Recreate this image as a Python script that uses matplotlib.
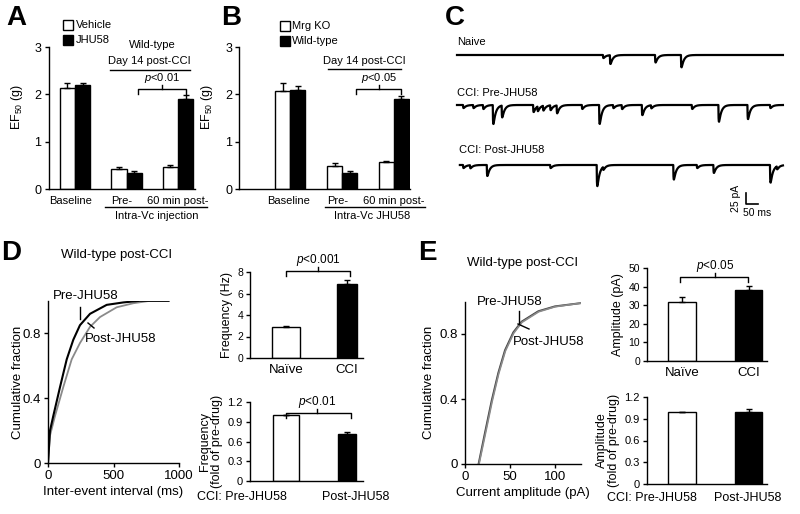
import numpy as np
import matplotlib
import matplotlib.pyplot as plt
from matplotlib.lines import Line2D

matplotlib.use('Agg')

plt.rcParams['font.family'] = ['Liberation Sans', 'DejaVu Sans']
plt.rcParams['mathtext.fontset'] = 'custom'
plt.rcParams['mathtext.rm'] = 'Liberation Sans'
plt.rcParams['mathtext.it'] = 'Liberation Sans:italic'
plt.rcParams['axes.linewidth'] = 1.0

# ---- data ----
group_labels = ['Baseline', 'Pre-', '60 min post-']
a_vehicle = [2.13, 0.42, 0.47]
a_vehicle_err = [0.12, 0.035, 0.035]
a_jhu58 = [2.20, 0.33, 1.90]
a_jhu58_err = [0.05, 0.04, 0.08]

b_mrgko = [2.08, 0.495, 0.57]
b_mrgko_err = [0.15, 0.05, 0.03]
b_wildtype = [2.09, 0.33, 1.90]
b_wildtype_err = [0.08, 0.04, 0.07]

trace_names = ['Naive', 'CCI: Pre-JHU58', 'CCI: Post-JHU58']
trace_start_ms = [0, 0, 12]
trace_end_ms = 1358
naive_event_ms = [608, 637, 825, 933]
naive_event_pa = [7, 20, 17, 28]
pre_event_ms = [25, 67, 108, 149, 186, 317, 335, 358, 388, 415, 520, 592, 650, 686, 770, 808, 978, 1089, 1210, 1304]
pre_event_pa = [7, 7, 9, 43, 27, 16, 11, 11, 11, 18, 9, 43, 7, 9, 23, 7, 9, 38, 32, 7]
post_event_ms = [25, 54, 124, 388, 582, 608, 901, 999, 1068, 1304, 1332]
post_event_pa = [7, 7, 25, 7, 48, 7, 33, 7, 18, 40, 7]
scale_pa = 25
scale_ms = 50

d_pre_ms = [0, 15, 40, 92, 143, 193, 244, 321, 448, 575, 702, 920]
d_pre_frac = [0, 0.20, 0.29, 0.47, 0.64, 0.76, 0.85, 0.92, 0.975, 0.99, 1.0, 1.0]
d_post_ms = [0, 15, 53, 117, 181, 244, 321, 397, 524, 651, 779, 920]
d_post_frac = [0, 0.17, 0.29, 0.47, 0.64, 0.74, 0.84, 0.90, 0.96, 0.985, 1.0, 1.0]

freq_labels = ['Naïve', 'CCI']
freq_hz = [2.85, 6.91]
freq_hz_err = [0.15, 0.37]
freq_fold = [1.0, 0.71]
freq_fold_err = [0.0, 0.04]

e_pre_pa = [15, 22, 29.5, 36.8, 44.2, 53.4, 62.6, 81, 99.4, 128]
e_pre_frac = [0, 0.19, 0.39, 0.56, 0.70, 0.81, 0.876, 0.94, 0.97, 0.99]
e_post_pa = [15.5, 22.5, 30, 37.2, 44.6, 53.8, 63, 81.5, 99.8, 128]
e_post_frac = [0, 0.185, 0.385, 0.555, 0.695, 0.805, 0.872, 0.937, 0.968, 0.99]

amp_labels = ['Naïve', 'CCI']
amp_pa = [31.9, 38.3]
amp_pa_err = [2.4, 1.8]
amp_fold = [1.0, 1.0]
amp_fold_err = [0.0, 0.04]

fold_ticks = [0, 0.3, 0.6, 0.9, 1.2]
fold_ticklabels = ['0', '0.3', '0.6', '0.9', '1.2']

# ---- layout helpers (pixel coordinates, y from top) ----
W, H = 800, 514
fig = plt.figure(figsize=(W / 100, H / 100), dpi=100)


def rect(x0, y0, x1, y1):
    return [x0 / W, 1 - y1 / H, (x1 - x0) / W, (y1 - y0) / H]


def ftext(x, y, s, size=8, **kw):
    kw.setdefault('ha', 'center')
    kw.setdefault('va', 'center')
    fig.text(x / W, 1 - y / H, s, fontsize=size, **kw)


def fline(xs, ys, lw=1.0, color='k'):
    fig.add_artist(Line2D([x / W for x in xs], [1 - y / H for y in ys],
                          lw=lw, color=color, transform=fig.transFigure))


def bracket(x0, x1, y, xm, label, size=8):
    fline([x0, x0, x1, x1], [y + 5, y, y, y + 5])
    fline([xm, xm], [y, y - 4])
    ftext(xm, y - 11, '$\\it{p}$<' + label, size=size)


def style_axes(ax, size):
    ax.spines['top'].set_visible(False)
    ax.spines['right'].set_visible(False)
    ax.tick_params(direction='out', length=3, width=1, labelsize=size, pad=2)


def square(x, y, filled):
    fig.add_artist(Line2D([x / W], [1 - y / H], marker='s', ms=6.5, mec='k', mew=1,
                          mfc='k' if filled else 'w', transform=fig.transFigure))


# ---- A and B ----
def ef50_panel(r, xlim, white, white_err, black, black_err, w):
    ax = fig.add_axes(r)
    x = np.arange(len(white))
    ax.bar(x - w / 2, white, w, color='w', edgecolor='k', lw=1)
    ax.bar(x + w / 2, black, w, color='k', edgecolor='k', lw=1)
    ax.errorbar(x - w / 2, white, yerr=[np.zeros(3), white_err], fmt='none', ecolor='k', elinewidth=1, capsize=2)
    ax.errorbar(x + w / 2, black, yerr=[np.zeros(3), black_err], fmt='none', ecolor='k', elinewidth=1, capsize=2)
    ax.set_xlim(*xlim)
    ax.set_ylim(0, 3)
    ax.set_yticks([0, 1, 2, 3])
    ax.set_xticks([])
    style_axes(ax, 9)
    ax.set_ylabel('EF$_{50}$ (g)', fontsize=9)
    return ax


ax_a = ef50_panel(rect(48.5, 47, 195, 189), (-0.515, 2.33), a_vehicle, a_vehicle_err, a_jhu58, a_jhu58_err, 0.3)
ax_a.yaxis.set_label_coords(-0.16, 0.58)
ax_b = ef50_panel(rect(239, 47, 410, 189), (-0.99, 2.31), b_mrgko, b_mrgko_err, b_wildtype, b_wildtype_err, 0.29)
ax_b.yaxis.set_label_coords(-0.14, 0.58)

ftext(16, 18, 'A', size=20, weight='bold')
ftext(231, 18, 'B', size=20, weight='bold')
ftext(455, 18, 'C', size=20, weight='bold')
ftext(11, 253, 'D', size=20, weight='bold')
ftext(427, 253, 'E', size=20, weight='bold')

square(67.5, 25, False)
ftext(76, 25, 'Vehicle', ha='left')
square(67.5, 40, True)
ftext(76, 40, 'JHU58', ha='left')
square(284.5, 26, False)
ftext(292, 26, 'Mrg KO', ha='left')
square(284.5, 41, True)
ftext(292, 41, 'Wild-type', ha='left')

ftext(152, 45, 'Wild-type')
ftext(149, 61, 'Day 14 post-CCI')
fline([110, 190], [70, 70])
bracket(138, 186, 89, 162, '0.01')
ftext(364, 61, 'Day 14 post-CCI')
fline([328, 401], [69, 69])
bracket(356, 401, 89, 379, '0.05')

for xc, s in zip([70.5, 122, 178], group_labels):
    ftext(xc, 201, s)
fline([105, 207], [207, 207])
ftext(157, 216, 'Intra-Vc injection')
for xc, s in zip([288.5, 337.5, 394], group_labels):
    ftext(xc, 201, s)
fline([325, 425], [207, 207])
ftext(372, 216, 'Intra-Vc JHU58')

# ---- C: traces ----
ax_c = fig.add_axes(rect(450, 30, 790, 220))
ax_c.axis('off')
px_per_ms = 12 / 50
px_per_pa = 11 / 25
ax_c.set_xlim(-7 / px_per_ms, 333 / px_per_ms)
ax_c.set_ylim(0, 190 / px_per_pa)
baselines = [165 / px_per_pa, 115 / px_per_pa, 55 / px_per_pa]
kt = np.arange(0, 200, 1.0)
kernel = np.exp(-kt / 10) - np.exp(-kt / 1.0)
kernel = kernel / kernel.max()
events = [(naive_event_ms, naive_event_pa), (pre_event_ms, pre_event_pa), (post_event_ms, post_event_pa)]
for (ev_t, ev_a), t0, base in zip(events, trace_start_ms, baselines):
    t = np.arange(t0, trace_end_ms + 1, 1.0)
    y = np.full_like(t, base)
    for te, amp in zip(ev_t, ev_a):
        i = int(te - t0)
        n = min(len(kernel), len(t) - i)
        y[i:i + n] -= amp * kernel[:n]
    ax_c.plot(t, y, color='k', lw=1.6)
ftext(457, 42, trace_names[0], ha='left')
ftext(457, 93, trace_names[1], ha='left')
ftext(459, 150, trace_names[2], ha='left')
sb_x = 289 / px_per_ms
sb_y = 16 / px_per_pa
ax_c.plot([sb_x, sb_x, sb_x + scale_ms], [sb_y + scale_pa, sb_y, sb_y], color='k', lw=1.2)
ftext(736, 198, '25 pA', rotation=90, size=7.5)
ftext(743, 213, '50 ms', ha='left', size=7.5)


# ---- D and E cumulative ----
def cum_panel(r, pre_x, pre_y, post_x, post_y, xlim, xticks, xlabel, pre_on_top):
    ax = fig.add_axes(r)
    if pre_on_top:
        ax.plot(post_x, post_y, color='#8a8a8a', lw=1.3)
        ax.plot(pre_x, pre_y, color='k', lw=1.5)
    else:
        ax.plot(pre_x, pre_y, color='#444444', lw=1.4)
        ax.plot(post_x, post_y, color='#8a8a8a', lw=1.2)
    ax.set_xlim(*xlim)
    ax.set_ylim(0, 1.0)
    ax.set_xticks(xticks)
    ax.set_yticks([0, 0.4, 0.8])
    ax.set_yticklabels(['0', '0.4', '0.8'])
    style_axes(ax, 9.5)
    ax.set_xlabel(xlabel, fontsize=9.5, labelpad=3)
    ax.set_ylabel('Cumulative fraction', fontsize=9.5)
    return ax


ax_d = cum_panel(rect(48, 300.8, 179, 463.3), d_pre_ms, d_pre_frac, d_post_ms, d_post_frac,
                 (0, 1000), [0, 500, 1000], 'Inter-event interval (ms)', True)
ax_d.yaxis.set_label_coords(-0.18, 0.5)
ftext(117, 255, 'Wild-type post-CCI', size=9.5)
ftext(86, 296, 'Pre-JHU58', size=9.5)
fline([80, 80], [307, 319])
ftext(121, 339, 'Post-JHU58', size=9.5)
fline([88, 94], [323, 328])

ax_e = cum_panel(rect(465, 301.5, 580.8, 464), e_pre_pa, e_pre_frac, e_post_pa, e_post_frac,
                 (0, 128), [0, 50, 100], 'Current amplitude (pA)', False)
ax_e.yaxis.set_label_coords(-0.26, 0.5)
ftext(523, 263, 'Wild-type post-CCI', size=9.5)
ftext(510, 302, 'Pre-JHU58', size=9.5)
fline([519, 519], [311, 323])
ftext(549, 342, 'Post-JHU58', size=9.5)
fline([518, 529], [324, 329])


# ---- D and E bars ----
def small_bars(r, xlim, vals, errs, widths, ylim, yticks, yticklabels, xlabels, ylabel, size):
    ax = fig.add_axes(r)
    x = np.arange(len(vals))
    ax.bar(x, vals, widths, color=['w', 'k'], edgecolor='k', lw=1)
    ax.errorbar(x, vals, yerr=[np.zeros(len(vals)), errs], fmt='none', ecolor='k', elinewidth=1, capsize=2)
    ax.set_xlim(*xlim)
    ax.set_ylim(*ylim)
    ax.set_yticks(yticks)
    ax.set_yticklabels(yticklabels)
    style_axes(ax, size)
    if xlabels:
        ax.set_xticks(x)
        ax.set_xticklabels(xlabels, fontsize=9.5)
        ax.tick_params(axis='x', length=0, pad=4)
    else:
        ax.set_xticks([])
    ax.set_ylabel(ylabel, fontsize=9, labelpad=3, linespacing=1.0)
    return ax


small_bars(rect(250, 272, 363, 358), (-0.59, 1.262), freq_hz, freq_hz_err, [0.46, 0.34],
           (0, 8), [0, 2, 4, 6, 8], ['0', '2', '4', '6', '8'], freq_labels, 'Frequency (Hz)', 7.5)
bracket(286, 350, 271, 318, '0.001', size=8.5)

small_bars(rect(250, 402, 363, 481), (-0.59, 1.262), freq_fold, freq_fold_err, [0.43, 0.28],
           (0, 1.2), fold_ticks, fold_ticklabels, None, 'Frequency\n(fold of pre-drug)', 8)
bracket(286, 351, 413, 317, '0.01', size=8.5)
ftext(242, 497, 'CCI: Pre-JHU58', size=9)
ftext(356, 497, 'Post-JHU58', size=9)

small_bars(rect(647, 268, 767, 361), (-0.526, 1.278), amp_pa, amp_pa_err, [0.42, 0.42],
           (0, 50), [0, 10, 20, 30, 40, 50], ['0', '10', '20', '30', '40', '50'], amp_labels,
           'Amplitude (pA)', 7.5)
bracket(680, 748, 277, 715, '0.05', size=8.5)

small_bars(rect(647, 397, 767, 484), (-0.526, 1.278), amp_fold, amp_fold_err, [0.42, 0.42],
           (0, 1.2), fold_ticks, fold_ticklabels, None, 'Amplitude\n(fold of pre-drug)', 8)
ftext(652, 498, 'CCI: Pre-JHU58', size=9)
ftext(748, 498, 'Post-JHU58', size=9)

fig.savefig('out.png', dpi=100)
